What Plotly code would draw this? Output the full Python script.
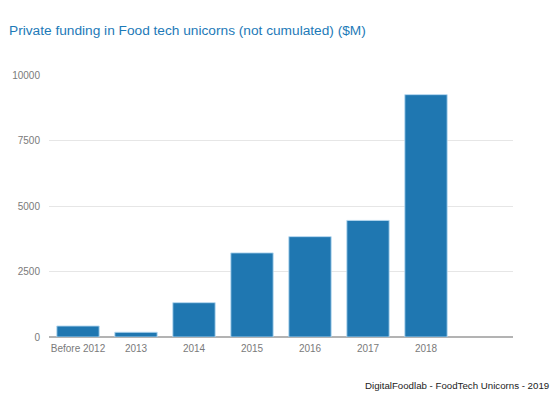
import plotly.graph_objects as go

categories = ["Before 2012", "2013", "2014", "2015", "2016", "2017", "2018"]
funding = [420, 180, 1310, 3210, 3830, 4450, 9250]
y_ticks = [0, 2500, 5000, 7500, 10000]
title_text = "Private funding in Food tech unicorns (not cumulated) ($M)"
source_text = "DigitalFoodlab - FoodTech Unicorns - 2019"

fig = go.Figure(
    go.Bar(
        x=categories,
        y=funding,
        marker=dict(color="#1f77b1", line=dict(color="rgba(180,215,240,0.9)", width=1)),
    )
)

fig.update_layout(
    width=554,
    height=393,
    margin=dict(l=47, r=41, t=75, b=56),
    paper_bgcolor="white",
    plot_bgcolor="white",
    bargap=0.27,
    showlegend=False,
    font=dict(family="Liberation Sans, Arial, sans-serif", size=10, color="#777777"),
    title=dict(
        text=title_text,
        x=9 / 554,
        xanchor="left",
        xref="container",
        y=1 - 30 / 393,
        yanchor="middle",
        yref="container",
        font=dict(family="Liberation Sans, Arial, sans-serif", size=13.7, color="#1d7ab8"),
    ),
    xaxis=dict(
        type="category",
        range=[-0.5, 7.5],
        showgrid=False,
        showline=False,
        zeroline=False,
        ticks="",
        ticklabelstandoff=4,
        tickfont=dict(size=10, color="#7a7a7a"),
    ),
    yaxis=dict(
        range=[0, 10000],
        tickvals=y_ticks,
        ticktext=[str(v) for v in y_ticks],
        showgrid=True,
        gridcolor="#e6e6e6",
        gridwidth=1,
        zeroline=True,
        zerolinecolor="#b3b3b3",
        zerolinewidth=2,
        ticks="",
        ticklabelstandoff=8,
        tickfont=dict(size=10, color="#7a7a7a"),
    ),
    annotations=[
        dict(
            text=source_text,
            xref="paper",
            yref="paper",
            x=(551 - 47) / 466,
            y=(337 - 385) / 262,
            xanchor="right",
            yanchor="middle",
            showarrow=False,
            font=dict(family="Liberation Sans, Arial, sans-serif", size=9.7, color="#222222"),
        )
    ],
)

fig.write_html(
    "out.html",
    config={"displayModeBar": False},
    post_script="document.body.style.margin='0';document.body.style.padding='0';",
)
